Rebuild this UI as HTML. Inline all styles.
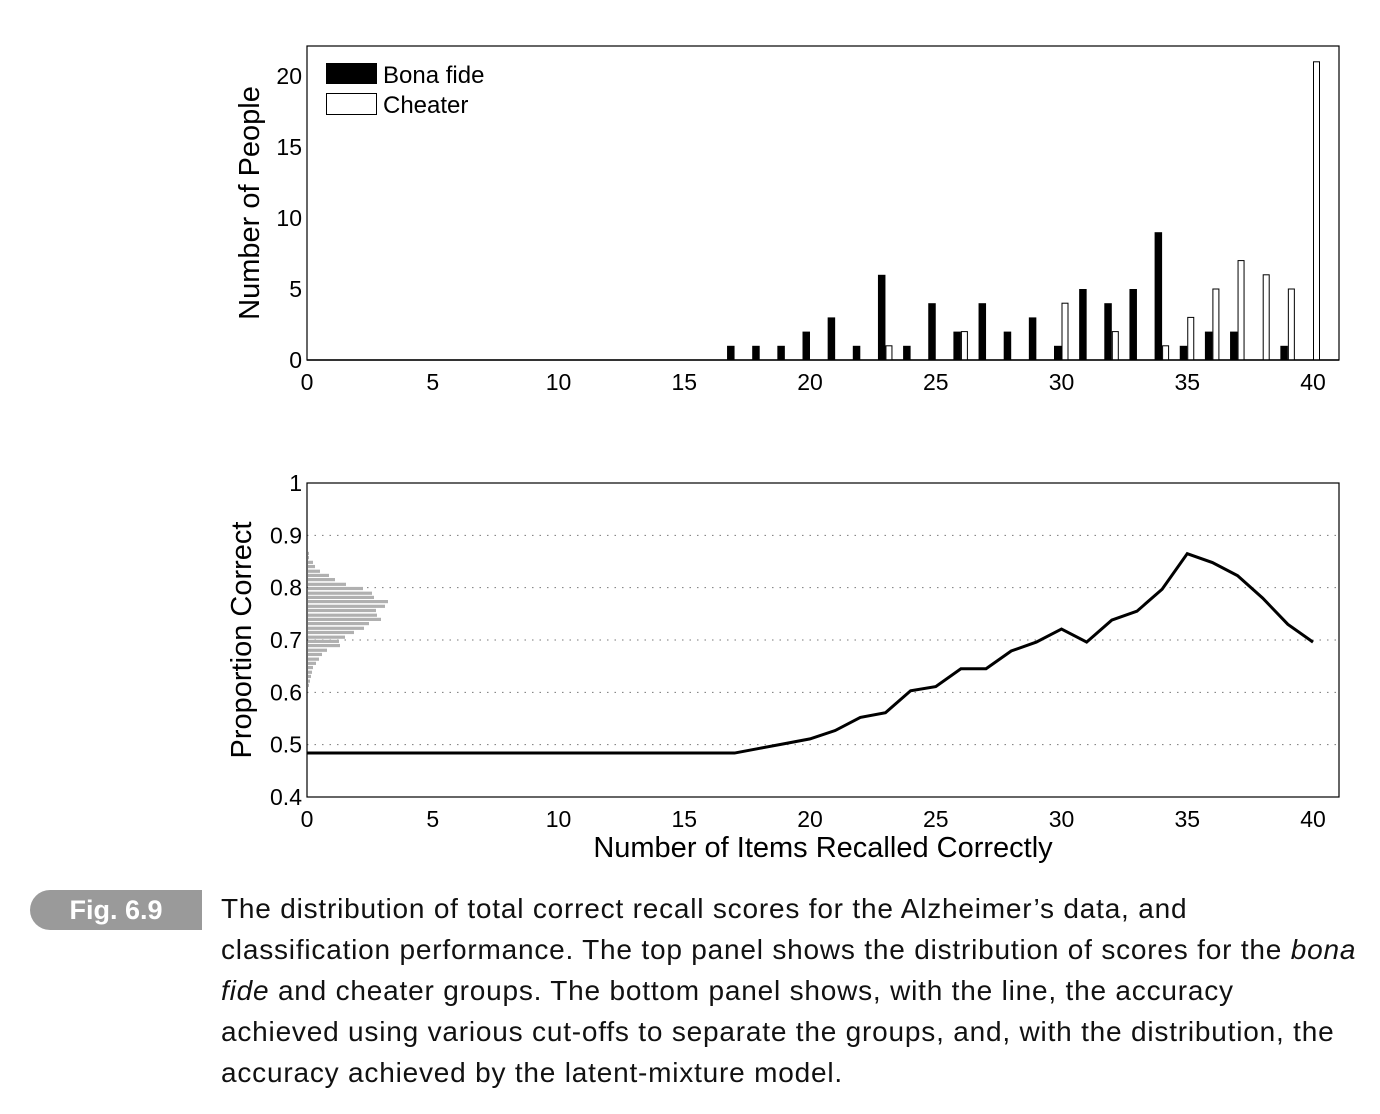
<!DOCTYPE html>
<html><head><meta charset="utf-8">
<style>
body{margin:0;background:#fff;width:1380px;height:1114px;overflow:hidden;position:relative;font-family:"Liberation Sans",sans-serif;}
svg{position:absolute;left:0;top:0}
#tab{position:absolute;left:30px;top:890px;width:172px;height:40px;background:#9a9a9a;border-radius:20px 0 0 20px;color:#fff;font-weight:bold;font-size:27px;line-height:40px;text-align:center;}
#cap{position:absolute;left:221px;top:888px;width:1150px;font-size:28px;letter-spacing:0.8px;line-height:41px;color:#111;white-space:nowrap;}
</style></head><body>
<svg id="chart" width="1380" height="880"></svg>
<div id="tab">Fig. 6.9</div>
<div id="cap">The distribution of total correct recall scores for the Alzheimer’s data, and<br>classification performance. The top panel shows the distribution of scores for the <i>bona</i><br><i>fide</i> and cheater groups. The bottom panel shows, with the line, the accuracy<br>achieved using various cut-offs to separate the groups, and, with the distribution, the<br>accuracy achieved by the latent-mixture model.</div>
<script>
const bonaX=[17,18,19,20,21,22,23,24,25,26,27,28,29,30,31,32,33,34,35,36,37,39];
const bonaN=[1,1,1,2,3,1,6,1,4,2,4,2,3,1,5,4,5,9,1,2,2,1];
const cheatX=[23,26,30,32,34,35,36,37,38,39,40];
const cheatN=[1,2,4,2,1,3,5,7,6,5,21];
const lineX=[0,17,18,19,20,21,22,23,24,25,26,27,28,29,30,31,32,33,34,35,36,37,38,39,40];
const lineY=[0.484,0.484,0.493,0.502,0.511,0.527,0.552,0.561,0.603,0.611,0.645,0.645,0.679,0.696,0.721,0.696,0.738,0.755,0.797,0.865,0.848,0.823,0.780,0.730,0.696];
const histC=[0.865,0.857,0.848,0.840,0.831,0.823,0.815,0.806,0.798,0.789,0.781,0.773,0.764,0.756,0.747,0.739,0.731,0.722,0.714,0.705,0.697,0.689,0.680,0.672,0.663,0.655,0.647,0.638,0.630,0.621,0.613];
const histW=[1,1,5,7,12,21,27,38,55,64,66,80,77,68,69,73,61,56,46,37,31,32,19,14,11,8,5,4,3,2,1];
const xTicks=[0,5,10,15,20,25,30,35,40];
const yTop=[0,5,10,15,20];
const yBot=[0.4,0.5,0.6,0.7,0.8,0.9,1];
const yBotLbl=["0.4","0.5","0.6","0.7","0.8","0.9","1"];

const S=document.getElementById('chart');const NS='http://www.w3.org/2000/svg';
function mk(t,a,p){const e=document.createElementNS(NS,t);for(const k in a)e.setAttribute(k,a[k]);(p||S).appendChild(e);return e;}
const L=307,R=1339;
const xs=v=>L+v*(1313-L)/40;
const yT=v=>360-v*(360-76)/20;
const yB=v=>797-(v-0.4)*(797-483)/0.6;
const hs=v=>v;

const topG=mk('g',{});


mk('rect',{x:L,y:46,width:R-L,height:314,fill:'none',stroke:'#000','stroke-width':1.2},topG);
xTicks.forEach(v=>{const t=mk('text',{x:xs(v),y:390,'font-size':23,'text-anchor':'middle'},topG);t.textContent=v;

});
yTop.forEach(v=>{const t=mk('text',{x:302,y:yT(v)+8,'font-size':23,'text-anchor':'end'},topG);t.textContent=v;

});
bonaX.forEach((x,i)=>{const r=mk('rect',{x:xs(x)-7.5,y:yT(bonaN[i]),width:7.5,height:yT(0)-yT(bonaN[i]),fill:'#000'},topG);

});
cheatX.forEach((x,i)=>{const r=mk('rect',{x:xs(x)+0.5,y:yT(cheatN[i]),width:6,height:yT(0)-yT(cheatN[i]),fill:'#fff',stroke:'#000','stroke-width':1},topG);

});
mk('line',{x1:L,y1:360,x2:R,y2:360,stroke:'#000','stroke-width':1.5},topG);
const yl=mk('text',{x:0,y:0,'font-size':29,'text-anchor':'middle',transform:'translate(259,203) rotate(-90)'},topG);yl.textContent='Number of People';


const lg=mk('g',{},topG);


mk('rect',{x:326,y:63,width:51,height:21,fill:'#000'},lg);
mk('rect',{x:326.5,y:93.5,width:50,height:21,fill:'#fff',stroke:'#000'},lg);
const t1=mk('text',{x:383,y:83,'font-size':24},lg);t1.textContent='Bona fide';


const t2=mk('text',{x:383,y:113,'font-size':24},lg);t2.textContent='Cheater';



const botG=mk('g',{});


[0.5,0.6,0.7,0.8,0.9].forEach(v=>{const g=mk('line',{x1:L,y1:yB(v),x2:R,y2:yB(v),stroke:'#777','stroke-width':1,'stroke-dasharray':'1.5 6'},botG);

});
mk('rect',{x:L,y:483,width:R-L,height:314,fill:'none',stroke:'#000','stroke-width':1.2},botG);
histC.forEach((c,i)=>{const r=mk('rect',{x:L+1,y:yB(c)-1.8,width:hs(histW[i]),height:3.2,fill:'#b0b0b0'},botG);

});
const pl=mk('polyline',{points:lineX.map((x,i)=>xs(x)+','+yB(lineY[i])).join(' '),fill:'none',stroke:'#000','stroke-width':3},botG);


xTicks.forEach(v=>{const t=mk('text',{x:xs(v),y:827,'font-size':23,'text-anchor':'middle'},botG);t.textContent=v;

});
yBot.forEach((v,i)=>{const t=mk('text',{x:302,y:yB(v)+8,'font-size':23,'text-anchor':'end'},botG);t.textContent=yBotLbl[i];

});
const y2=mk('text',{x:0,y:0,'font-size':29,'text-anchor':'middle',transform:'translate(251,640) rotate(-90)'},botG);y2.textContent='Proportion Correct';


const xl=mk('text',{x:823,y:857,'font-size':29,'text-anchor':'middle'},botG);xl.textContent='Number of Items Recalled Correctly';


</script>
</body></html>
